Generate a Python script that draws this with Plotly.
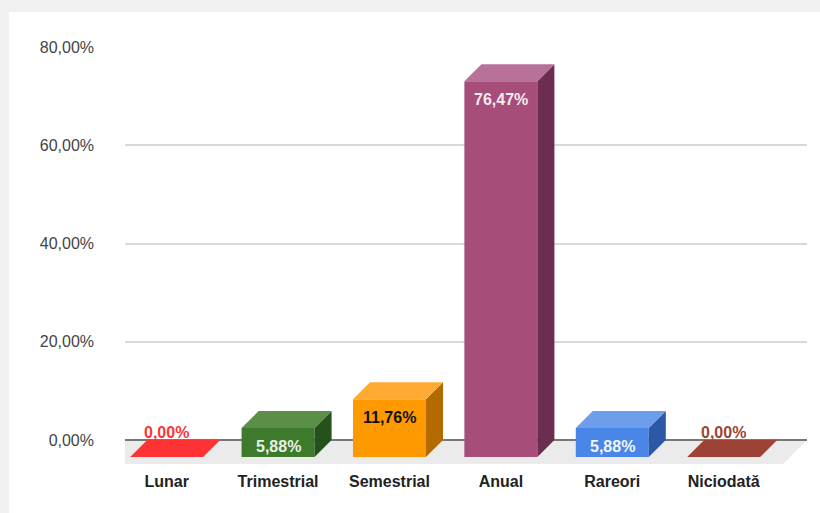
import plotly.graph_objects as go

# ---------------- data ----------------
categories = ["Lunar", "Trimestrial", "Semestrial", "Anual", "Rareori", "Niciodată"]
values = [0.00, 5.88, 11.76, 76.47, 5.88, 0.00]
y_ticks = [0, 20, 40, 60, 80]
y_tick_labels = ["0,00%", "20,00%", "40,00%", "60,00%", "80,00%"]

# ---------------- styles ----------------
front_colors = ["#ff3333", "#3d7a2c", "#ff9900", "#a64d79", "#4a86e8", "#9c4335"]
top_colors = ["#ff3333", "#5b8f48", "#ffab33", "#b8729a", "#6d9eeb", "#9c4335"]
side_colors = ["#b32424", "#25511a", "#b36b00", "#6b2e4e", "#2c58a6", "#6d2f25"]
label_colors = ["#ff3333", "#e8f0e4", "#111111", "#f5eaf0", "#f0f5ff", "#9c4335"]

x_range = [-0.527, 5.595]
bar_w = 0.655     # front face width (category units)
depth_x = 0.153   # 3D depth offset (category units)
depth_y = 3.46    # 3D depth offset (value units)
floor_dx = 0.215
floor_dy = 4.9

fig = go.Figure()

for i, (cat, v) in enumerate(zip(categories, values)):
    xl, xr = i - bar_w / 2, i + bar_w / 2
    # front face
    fig.add_trace(go.Scatter(
        x=[xl - depth_x, xr - depth_x, xr - depth_x, xl - depth_x, xl - depth_x],
        y=[-depth_y, -depth_y, v - depth_y, v - depth_y, -depth_y],
        fill="toself", fillcolor=front_colors[i], mode="none",
        hoverinfo="skip", showlegend=False))
    # side face
    fig.add_trace(go.Scatter(
        x=[xr - depth_x, xr, xr, xr - depth_x, xr - depth_x],
        y=[-depth_y, 0, v, v - depth_y, -depth_y],
        fill="toself", fillcolor=side_colors[i], mode="none",
        hoverinfo="skip", showlegend=False))
    # top face
    fig.add_trace(go.Scatter(
        x=[xl - depth_x, xr - depth_x, xr, xl, xl - depth_x],
        y=[v - depth_y, v - depth_y, v, v, v - depth_y],
        fill="toself", fillcolor=top_colors[i], mode="none",
        hoverinfo="skip", showlegend=False))

annotations = []
for i, v in enumerate(values):
    txt = f"{v:.2f}".replace(".", ",") + "%"
    font = dict(family="Liberation Sans, Arial", size=16, color=label_colors[i], weight="bold")
    if v == 0:
        annotations.append(dict(x=i - depth_x, y=0, text=txt, showarrow=False,
                                yanchor="middle", yshift=8, xref="x", yref="y", font=font))
    else:
        annotations.append(dict(x=i - depth_x, y=v - depth_y, text=txt, showarrow=False,
                                yanchor="middle", yshift=-18, xref="x", yref="y", font=font))

shapes = [
    # white card
    dict(type="rect", xref="paper", yref="paper", x0=-0.1701, x1=1.05, y0=-0.2, y1=1.0827,
         fillcolor="white", line=dict(width=0), layer="below"),
    # floor
    dict(type="path", xref="x", yref="y", layer="below", line=dict(width=0),
         fillcolor="#ebebeb",
         path=f"M {x_range[0] - floor_dx} {-floor_dy} L {x_range[1] - floor_dx} {-floor_dy} "
              f"L {x_range[1]} 0 L {x_range[0]} 0 Z"),
]

fig.update_layout(
    width=820, height=513,
    margin=dict(l=125, r=13, t=47, b=43),
    paper_bgcolor="#f1f1f1",
    plot_bgcolor="white",
    shapes=shapes,
    annotations=annotations,
    xaxis=dict(range=x_range, tickvals=[i - depth_x for i in range(len(categories))],
               ticktext=categories, showgrid=False, zeroline=False, showline=False,
               ticks="", fixedrange=True,
               tickfont=dict(family="Liberation Sans, Arial", size=16, color="#222222",
                             weight="bold")),
    yaxis=dict(range=[-6.107, 80], tickvals=y_ticks, ticktext=y_tick_labels,
               showgrid=True, gridcolor="#d9d9d9", gridwidth=1.5,
               zeroline=True, zerolinecolor="#777777", zerolinewidth=2,
               showline=False, ticks="", ticklabelstandoff=30, fixedrange=True,
               tickfont=dict(family="Liberation Sans, Arial", size=16, color="#444444")),
)

fig.write_html("out.html",
               config={"displayModeBar": False},
               post_script="document.body.style.margin='0';"
                           "document.body.style.background='#f1f1f1';")
